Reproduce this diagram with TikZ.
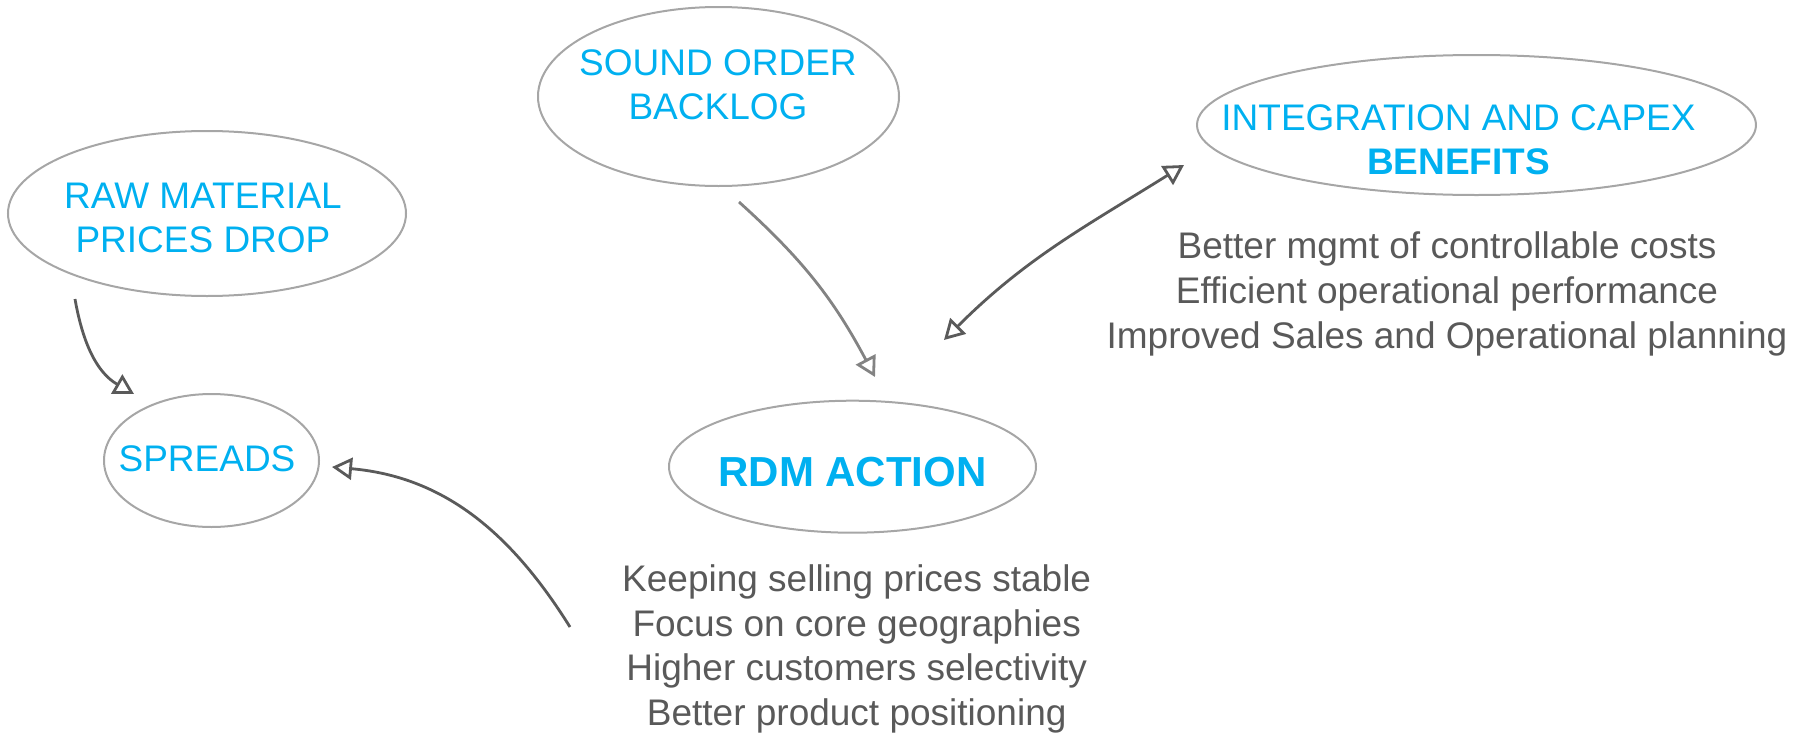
\documentclass[tikz,border=0pt]{standalone}
\usepackage{fontspec}
\setmainfont{Liberation Sans}
\usetikzlibrary{shapes.geometric,arrows.meta}
\definecolor{capblue}{RGB}{0,176,240}
\definecolor{listgray}{RGB}{89,89,89}
\definecolor{ringgray}{RGB}{166,166,166}
\definecolor{arrowgray}{RGB}{90,90,90}
\tikzstyle{bubble}=[ellipse, draw=ringgray, line width=1pt, inner sep=0pt]
\tikzstyle{caption}=[text=capblue, align=center, inner sep=0pt, font=\fontsize{18.5}{22.25}\selectfont]
\tikzstyle{notes}=[text=listgray, align=center, inner sep=0pt, font=\fontsize{18.5}{22.35}\selectfont]
\newcommand{\bubble}{\node[bubble]}

\begin{document}
\begin{tikzpicture}[x=0.5pt, y=0.5pt,
    >={Triangle[open,length=10pt,width=11pt]},
    every edge/.style={draw=arrowgray, line width=1.4pt, ->}
]
\useasboundingbox (0,0) rectangle (1796,-734);
% ellipses
\bubble (raw) at (207,-213.5) [minimum width=199pt, minimum height=82.5pt] {};
\bubble (sound) at (718.5,-96.5) [minimum width=180.5pt, minimum height=89.5pt] {};
\bubble (integ) at (1476.5,-125) [minimum width=279.5pt, minimum height=70pt] {};
\bubble (spreads) at (211.5,-460.5) [minimum width=107.5pt, minimum height=66.5pt] {};
\bubble (rdm) at (852.5,-466.7) [minimum width=183.5pt, minimum height=66pt] {};
% captions
\node[caption] (raw-t) at (203,-218) {RAW MATERIAL\\PRICES DROP};
\node[caption] (sound-t) at (718,-85) {SOUND ORDER\\BACKLOG};
\node[caption] (integ-t) at (1458.5,-140) {INTEGRATION AND CAPEX\\\textbf{BENEFITS}};
\node[caption] (spreads-t) at (207,-458.3) {SPREADS};
\node[caption, font=\fontsize{21}{25}\selectfont\bfseries] (rdm-t) at (852.5,-472) {RDM ACTION};
% lists
\node[notes] (integ-list) at (1447,-294) {Better mgmt of controllable costs\\Efficient operational performance\\Improved Sales and Operational planning};
\node[notes] (rdm-list) at (856.7,-649) {Keeping selling prices stable\\Focus on core geographies\\Higher customers selectivity\\Better product positioning};
% arrow ends
\coordinate (raw-out) at (75,-299);
\coordinate (spreads-top) at (134,-394);
\coordinate (rdm-left) at (570,-627);
\coordinate (spreads-right) at (332,-467);
\coordinate (sound-out) at (739,-202);
\coordinate (rdm-top) at (875,-377);
\coordinate (rdm-right) at (944,-340);
\coordinate (integ-left) at (1184,-165);
\path
(raw-out) edge[out=-80,in=150] (spreads-top)
(rdm-left) edge[out=122,in=-5] (spreads-right)
(sound-out) edge[draw=arrowgray!75, out=-42,in=118] (rdm-top)
(rdm-right) edge[<->, out=45,in=-148] (integ-left)
;
\end{tikzpicture}
\end{document}
